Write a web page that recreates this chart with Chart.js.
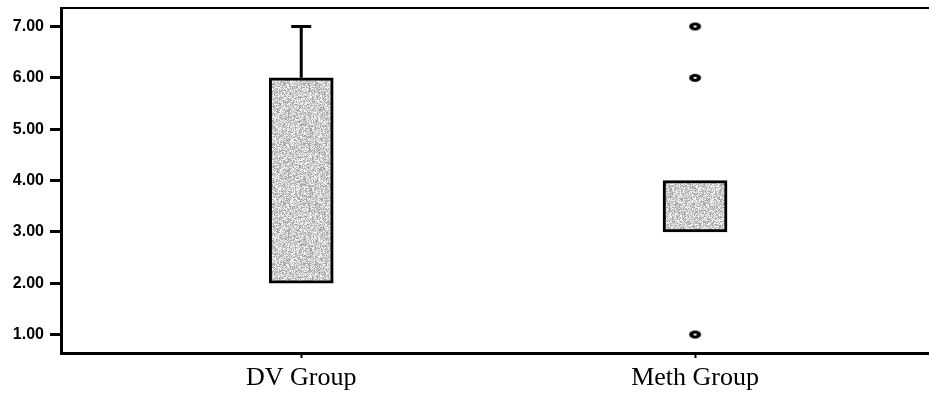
<!DOCTYPE html>
<html>
<head>
<meta charset="utf-8">
<script src="https://cdn.jsdelivr.net/npm/chart.js@4"></script>
<style>
  html, body { margin: 0; padding: 0; background: #fff; overflow: hidden; }
  canvas { display: block; }
</style>
</head>
<body>
<canvas id="boxChart" width="929" height="399"></canvas>
<script>
const groups = ["DV Group", "Meth Group"];
const boxLow = [2, 3];        // Q1
const boxHigh = [6, 4];       // Q3
const whiskerLow = [2, 3];
const whiskerHigh = [7, 4];
const dvOutliers = [];
const methOutliers = [7, 6, 1];
const yTickValues = [1, 2, 3, 4, 5, 6, 7];

const ink = "#000";

// speckled grey fill like the scanned box shading
function makeSpeckle() {
  const c = document.createElement("canvas");
  c.width = 60;
  c.height = 60;
  const g = c.getContext("2d");
  const img = g.createImageData(60, 60);
  let s = 12345;
  for (let i = 0; i < img.data.length; i += 4) {
    s = (s * 16807) % 2147483647;
    const v = 155 + (s % 101);
    img.data[i] = v;
    img.data[i + 1] = v;
    img.data[i + 2] = v;
    img.data[i + 3] = 255;
  }
  g.putImageData(img, 0, 0);
  return g.createPattern(c, "repeat");
}

function makeOutlierMark() {
  const c = document.createElement("canvas");
  c.width = 14;
  c.height = 10;
  const g = c.getContext("2d");
  g.fillStyle = ink;
  g.beginPath();
  g.ellipse(7, 5, 6, 4, 0, 0, Math.PI * 2);
  g.fill();
  g.fillStyle = "#fff";
  g.beginPath();
  g.ellipse(7, 5, 1.8, 0.9, 0, 0, Math.PI * 2);
  g.fill();
  return c;
}

const whiskerPlugin = {
  id: "whiskers",
  afterDatasetsDraw(chart) {
    const { ctx, chartArea, scales: { x, y } } = chart;
    ctx.save();
    ctx.strokeStyle = ink;
    ctx.lineCap = "butt";
    ctx.lineWidth = 3;
    groups.forEach((g, i) => {
      const px = x.getPixelForValue(i + 1);
      if (whiskerHigh[i] > boxHigh[i]) {
        const top = y.getPixelForValue(whiskerHigh[i]);
        ctx.beginPath();
        ctx.moveTo(px, y.getPixelForValue(boxHigh[i]));
        ctx.lineTo(px, top);
        ctx.moveTo(px - 10, top);
        ctx.lineTo(px + 10, top);
        ctx.stroke();
      }
      if (whiskerLow[i] < boxLow[i]) {
        const bot = y.getPixelForValue(whiskerLow[i]);
        ctx.beginPath();
        ctx.moveTo(px, y.getPixelForValue(boxLow[i]));
        ctx.lineTo(px, bot);
        ctx.moveTo(px - 10, bot);
        ctx.lineTo(px + 10, bot);
        ctx.stroke();
      }
    });
    // top frame line
    ctx.lineWidth = 2;
    ctx.beginPath();
    ctx.moveTo(chartArea.left, chartArea.top);
    ctx.lineTo(chartArea.right, chartArea.top);
    ctx.stroke();
    ctx.restore();
  }
};

const outlierPoints = [];
dvOutliers.forEach(v => outlierPoints.push({ x: 1, y: v }));
methOutliers.forEach(v => outlierPoints.push({ x: 2, y: v }));

new Chart(document.getElementById("boxChart"), {
  type: "bar",
  data: {
    datasets: [
      {
        type: "bar",
        data: groups.map((g, i) => ({ x: i + 1, y: [boxLow[i], boxHigh[i]] })),
        backgroundColor: makeSpeckle(),
        borderColor: ink,
        borderWidth: 3,
        borderSkipped: false,
        barThickness: 64
      },
      {
        type: "scatter",
        data: outlierPoints,
        pointStyle: makeOutlierMark(),
        pointRadius: 6
      }
    ]
  },
  options: {
    responsive: false,
    animation: false,
    layout: { padding: 0, autoPadding: false },
    plugins: {
      legend: { display: false },
      tooltip: { enabled: false }
    },
    scales: {
      x: {
        type: "linear",
        offset: false,
        min: 0.39,
        max: 2.594,
        afterBuildTicks: scale => {
          scale.ticks = groups.map((g, i) => ({ value: i + 1 }));
        },
        afterFit: scale => {
          scale.height = 46;
          scale.paddingLeft = 0;
          scale.paddingRight = 0;
        },
        ticks: {
          color: ink,
          padding: 5,
          font: { family: "'Liberation Serif', 'Times New Roman', serif", size: 26 },
          callback: v => groups[v - 1] || ""
        },
        grid: {
          display: true,
          offset: false,
          drawOnChartArea: false,
          drawTicks: true,
          tickLength: 5,
          tickWidth: 2,
          tickColor: ink
        },
        border: { display: true, color: ink, width: 3 }
      },
      y: {
        min: 0.64,
        max: 7.36,
        afterBuildTicks: scale => {
          scale.ticks = yTickValues.map(v => ({ value: v }));
        },
        afterFit: scale => {
          scale.width = 61;
          scale.paddingTop = 8;
          scale.paddingBottom = 0;
        },
        ticks: {
          color: ink,
          padding: 6,
          font: { family: "'Liberation Sans', Arial, sans-serif", size: 16, weight: "bold" },
          callback: v => Number(v).toFixed(2)
        },
        grid: {
          display: true,
          drawOnChartArea: false,
          drawTicks: true,
          tickLength: 11,
          tickWidth: 3,
          tickColor: ink
        },
        border: { display: true, color: ink, width: 3 }
      }
    }
  },
  plugins: [whiskerPlugin]
});
</script>
</body>
</html>
